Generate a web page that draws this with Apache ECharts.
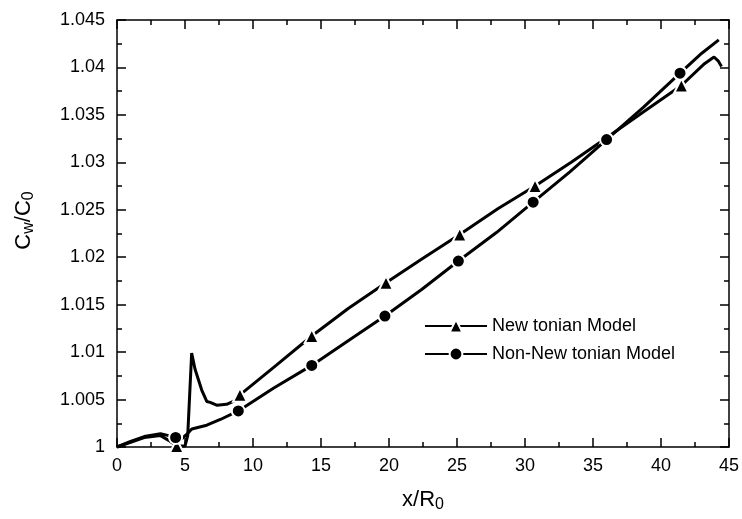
<!DOCTYPE html>
<html>
<head>
<meta charset="utf-8">
<script src="https://cdn.jsdelivr.net/npm/echarts@6/dist/echarts.min.js"></script>
<style>
  html, body { margin: 0; padding: 0; background: #fff; }
  #chart { width: 742px; height: 519px; }
</style>
</head>
<body>
<div id="chart"></div>
<script>
// Newtonian model: curve points and triangle markers
var newtCurveX = [0, 1, 2, 3.2, 3.8, 5.0, 5.2, 5.49, 5.74, 6.23, 6.6, 6.85, 7.33, 8.06, 8.55, 11.7, 17, 22.5, 28, 33.4, 38.7, 43.2, 43.9, 44.2, 44.45];
var newtCurveY = [1.0, 1.0005, 1.001, 1.0012, 1.0007, 1.0001, 1.0012, 1.0099, 1.0082, 1.006, 1.0048, 1.0047, 1.0044, 1.0045, 1.0048, 1.0086, 1.0146, 1.0199, 1.0251, 1.03, 1.0353, 1.0404, 1.0411, 1.0407, 1.0401];
var newtMarkX = [4.39, 9.04, 14.32, 19.78, 25.2, 30.74, 36.0, 41.5];
var newtMarkY = [1.0001, 1.0055, 1.0117, 1.0173, 1.0224, 1.0275, 1.0326, 1.0381];

// Non-Newtonian model: curve points and circle markers
var nonCurveX = [0, 1, 2, 3.2, 3.8, 4.8, 5.1, 5.5, 6.6, 7.6, 11.5, 17, 22.4, 27.9, 33.3, 38.7, 43, 44.25];
var nonCurveY = [1.0, 1.0006, 1.0011, 1.0014, 1.0012, 1.0009, 1.0013, 1.0019, 1.0023, 1.0029, 1.0062, 1.0112, 1.0166, 1.0226, 1.029, 1.0358, 1.0415, 1.0429];
var nonMarkX = [4.31, 8.92, 14.32, 19.7, 25.1, 30.6, 36.0, 41.4];
var nonMarkY = [1.001, 1.0038, 1.0086, 1.0138, 1.0196, 1.0258, 1.0324, 1.0394];

var seriesNames = ['New tonian Model', 'Non-New tonian Model'];

function buildData(cx, cy, mx, my) {
  var pts = [];
  for (var i = 0; i < cx.length; i++) {
    pts.push({ value: [cx[i], cy[i]], symbol: 'none' });
  }
  for (var j = 0; j < mx.length; j++) {
    pts.push({ value: [mx[j], my[j]] });
  }
  pts.sort(function (a, b) { return a.value[0] - b.value[0]; });
  return pts;
}

var font = 'Liberation Sans, Arial, sans-serif';

function axisBase(extra) {
  var base = {
    axisLine: { show: true, onZero: false, lineStyle: { color: '#000', width: 1.5 } },
    axisTick: { show: true, inside: true, length: 9, lineStyle: { color: '#000', width: 1.5 } },
    minorTick: { show: true, splitNumber: 2, length: 5, lineStyle: { color: '#000', width: 1.5 } },
    splitLine: { show: false },
    minorSplitLine: { show: false }
  };
  for (var k in extra) base[k] = extra[k];
  return base;
}

var chart = echarts.init(document.getElementById('chart'));
chart.setOption({
  backgroundColor: '#fff',
  animation: false,
  grid: { left: 117, right: 13, top: 20, bottom: 72 },
  legend: {
    orient: 'vertical',
    left: 419,
    top: 312,
    itemWidth: 62,
    itemHeight: 16,
    itemGap: 10,
    textStyle: { fontFamily: font, fontSize: 18, color: '#000' },
    data: seriesNames
  },
  xAxis: [
    axisBase({
      type: 'value', min: 0, max: 45, interval: 5, position: 'bottom',
      axisLabel: { color: '#000', fontFamily: font, fontSize: 18, margin: 10 },
      name: 'x/R{sub|0}', nameLocation: 'middle', nameGap: 40,
      nameTextStyle: {
        color: '#000', fontFamily: font, fontSize: 22,
        rich: { sub: { fontFamily: font, fontSize: 16, color: '#000', verticalAlign: 'bottom', padding: [10, 0, 0, 0] } }
      }
    }),
    axisBase({
      type: 'value', min: 0, max: 45, interval: 5, position: 'top',
      axisLabel: { show: false }
    })
  ],
  yAxis: [
    axisBase({
      type: 'value', min: 1, max: 1.045, interval: 0.005, position: 'left',
      axisLabel: {
        color: '#000', fontFamily: font, fontSize: 18, margin: 12,
        formatter: function (v) { return String(parseFloat(v.toFixed(3))); }
      },
      name: 'C{sub|w}/C{sub|0}', nameLocation: 'middle', nameGap: 80, nameRotate: 90,
      nameTextStyle: {
        color: '#000', fontFamily: font, fontSize: 22,
        padding: [0, 0, 0, 26],
        rich: { sub: { fontFamily: font, fontSize: 16, color: '#000', verticalAlign: 'bottom', padding: [10, 0, 0, 0] } }
      }
    }),
    axisBase({
      type: 'value', min: 1, max: 1.045, interval: 0.005, position: 'right',
      axisLabel: { show: false }
    })
  ],
  series: [
    {
      name: seriesNames[0],
      type: 'line',
      symbol: 'triangle',
      symbolSize: 14,
      showSymbol: true,
      showAllSymbol: true,
      clip: false,
      lineStyle: { color: '#000', width: 3 },
      itemStyle: { color: '#000', borderColor: '#fff', borderWidth: 2 },
      data: buildData(newtCurveX, newtCurveY, newtMarkX, newtMarkY),
      z: 2
    },
    {
      name: seriesNames[1],
      type: 'line',
      symbol: 'circle',
      symbolSize: 13,
      showSymbol: true,
      showAllSymbol: true,
      clip: false,
      lineStyle: { color: '#000', width: 3 },
      itemStyle: { color: '#000', borderColor: '#fff', borderWidth: 2 },
      data: buildData(nonCurveX, nonCurveY, nonMarkX, nonMarkY),
      z: 3
    }
  ]
});
</script>
</body>
</html>
